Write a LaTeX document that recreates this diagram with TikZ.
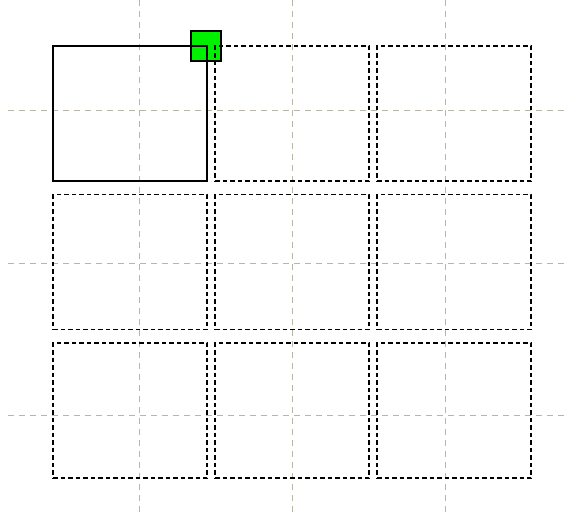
\documentclass[tikz,border=0pt]{standalone}
\usepackage{tikz}
\definecolor{gridgrey}{RGB}{185,182,168}
\definecolor{brightgreen}{RGB}{0,240,0}
\begin{document}
\begin{tikzpicture}[x=1pt,y=-1pt,
  guide/.style={draw=gridgrey,line width=1pt,dash pattern=on 6pt off 5pt},
  cellbox/.style={draw=black,line width=1.1pt,dash pattern=on 4.5pt off 3pt,
    minimum width=154pt,minimum height=135pt,inner sep=0pt,outer sep=0pt,anchor=north west},
  mainbox/.style={cellbox,solid},
  handle/.style={draw=black,fill=brightgreen,line width=1.1pt,
    minimum size=30pt,inner sep=0pt,outer sep=0pt}]
\useasboundingbox (0,0) rectangle (572,515);
\fill[white] (0,0) rectangle (572,515);
% guide lines
\foreach \gx in {139,292.3,445.7} \draw[guide] (\gx,0) -- (\gx,512);
\foreach \gy in {110,263,415} \draw[guide] (8,\gy) -- (568,\gy);
% handle
\node[handle] (h) at (206,46) {};
% boxes
\node[mainbox] (b11) at (53,46) {};
\node[cellbox] (b12) at (215,46) {};
\node[cellbox] (b13) at (377,46) {};
\node[cellbox] (b21) at (53,194.5) {};
\node[cellbox] (b22) at (215,194.5) {};
\node[cellbox] (b23) at (377,194.5) {};
\node[cellbox] (b31) at (53,343) {};
\node[cellbox] (b32) at (215,343) {};
\node[cellbox] (b33) at (377,343) {};
\end{tikzpicture}
\end{document}
